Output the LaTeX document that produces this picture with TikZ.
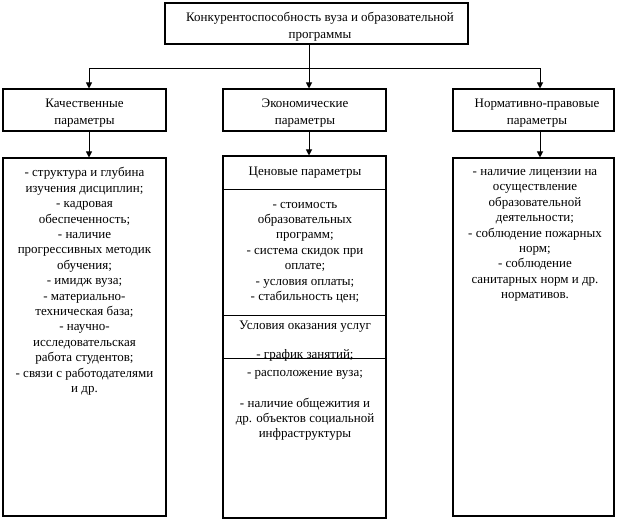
\documentclass[tikz,border=0pt]{standalone}
\usepackage{fontspec}
\setmainfont{Liberation Serif}
\usetikzlibrary{arrows.meta,fit}
\begin{document}
\begin{tikzpicture}[x=0.75pt,y=-0.75pt,
  box/.style={draw, line width=0.8pt, inner sep=0pt},
  txt/.style={align=center, inner sep=0pt, font=\fontsize{9.75}{11.55}\selectfont},
  head/.style={align=center, inner sep=0pt, font=\fontsize{9.75}{13.1}\selectfont},
  conn/.style={line width=0.75pt},
  arr/.style={conn, -{Triangle[length=4.5pt,width=4.5pt]}}]
\useasboundingbox[fill=white] (0,0) rectangle (620,522);
% top
\node[box, fit={(165,3)(468,44)}] (top) {};
\node[head] (toptxt) at (320,26.5) {Конкурентоспособность вуза и образовательной\\программы};
% row 2
\node[box, fit={(3,89)(166,131)}] (q) {};
\node[box, fit={(223,89)(386,131)}] (e) {};
\node[box, fit={(453,89)(614,131)}] (n) {};
\node[head] (qt) at (84.5,113) {Качественные\\параметры};
\node[head] (et) at (305,113) {Экономические\\параметры};
\node[head] (nt) at (537,113) {Нормативно-правовые\\параметры};
% row 3
\node[box, fit={(3,158)(166,516)}] (c1) {};
\node[box, fit={(223,156)(386,518)}] (c2) {};
\node[box, fit={(453,158)(614,516)}] (c3) {};
% connectors
\coordinate (jq) at (89,68);
\coordinate (je) at (309,68);
\coordinate (jn) at (540,68);
\draw[conn] (top.south -| je) -- (je);
\draw[conn] (jq) -- (jn);
\draw[arr] (jq) -- (jq |- q.north);
\draw[arr] (je) -- (je |- e.north);
\draw[arr] (jn) -- (jn |- n.north);
\draw[arr] (q.south -| jq) -- (jq |- c1.north);
\draw[arr] (e.south -| je) -- (je |- c2.north);
\draw[arr] (n.south -| jn) -- (jn |- c3.north);
% dividers in middle box
\coordinate (d1) at (0,189);
\coordinate (d2) at (0,315);
\coordinate (d3) at (0,358);
\draw[conn] (c2.west |- d1) -- (c2.east |- d1);
\draw[conn] (c2.west |- d2) -- (c2.east |- d2);
% texts
\node[txt] (t1) at (84.5,281.5) {- структура и глубина\\изучения дисциплин;\\- кадровая\\обеспеченность;\\- наличие\\прогрессивных методик\\обучения;\\- имидж вуза;\\- материально-\\техническая база;\\- научно-\\исследовательская\\работа студентов;\\- связи с работодателями\\и др.};
\node[txt] (t2a) at (305,173) {Ценовые параметры};
\node[txt] (t2b) at (305,252.5) {- стоимость\\образовательных\\программ;\\- система скидок при\\оплате;\\- условия оплаты;\\- стабильность цен;};
\node[txt] (t2c) at (305,327) {Условия оказания услуг};
\node[txt] (t2d) at (305,355) {- график занятий;};
\node[txt] (t2e) at (305,405.5) {- расположение вуза;\\[11.55pt]- наличие общежития и\\др. объектов социальной\\инфраструктуры};
\node[txt] (t3) at (535,235.5) {- наличие лицензии на\\осуществление\\образовательной\\деятельности;\\- соблюдение пожарных\\норм;\\- соблюдение\\санитарных норм и др.\\нормативов.};
\draw[conn] (c2.west |- d3) -- (c2.east |- d3);
\end{tikzpicture}
\end{document}
